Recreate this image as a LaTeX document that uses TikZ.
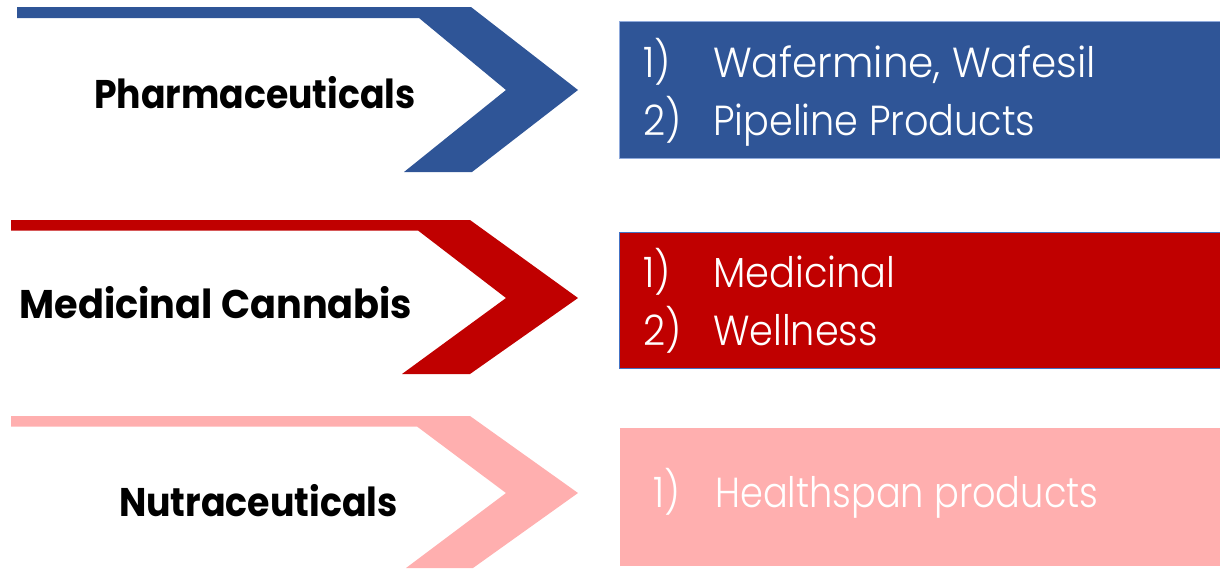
\documentclass[tikz,border=0pt]{standalone}
\usepackage{fontspec}
\setmainfont{Poppins}
\newfontfamily\lightf{Poppins Light}
\definecolor{cblue}{HTML}{2F5597}
\definecolor{cred}{HTML}{C00000}
\definecolor{cpink}{HTML}{FFAFAF}
\definecolor{cedge}{HTML}{4472C4}
\newcommand\hsq[2]{\scalebox{#1}[1]{#2}}
\tikzset{
  lbl/.style={anchor=base, font=\bfseries\fontsize{40}{40}\selectfont, text=black, inner sep=0pt},
  itm/.style={anchor=base west, font=\lightf\fontsize{42}{42}\selectfont, text=white, inner sep=0pt},
  pbox/.style={draw=none, inner sep=0pt},
}
\begin{document}
\begin{tikzpicture}[x=1pt,y=-1pt]
\useasboundingbox (0,0) rectangle (1220,568);
% chevrons
\fill[cblue] (17,7) -- (471,7) -- (578,90) -- (472,172) -- (404,172) -- (506,90) -- (419,18) -- (17,18) -- cycle;
\fill[cred] (11,220) -- (470,220) -- (578,298) -- (470,374) -- (402,374) -- (506,298) -- (418,230.5) -- (11,230.5) -- cycle;
\fill[cpink] (11,416) -- (470,416) -- (578,493) -- (473,568) -- (406,568) -- (506,493) -- (417,426.5) -- (11,426.5) -- cycle;
% labels
\node[lbl] (l1) at (255,108) {\hsq{0.905}{Pharmaceuticals}};
\node[lbl] (l2) at (216,318) {\hsq{0.956}{Medicinal Cannabis}};
\node[lbl] (l3) at (258.5,516) {\hsq{0.908}{Nutraceuticals}};
% boxes
\path[fill=cblue, draw=cedge!60, line width=0.8pt] (619.5,21.5) rectangle (1221,158);
\path[fill=cred, draw=cedge, line width=1pt] (619.5,232) rectangle (1221,368.5);
\path[fill=cpink] (619.5,428) rectangle (1221,566);
\node[pbox] (b1) at (920,90) {};
\node[pbox] (b2) at (920,300) {};
\node[pbox] (b3) at (920,497) {};
% items
\node[itm] (n11) at (643,77) {\hsq{0.92}{1)}};
\node[itm] (t11) at (713,77) {\hsq{0.965}{Wafermine, Wafesil}};
\node[itm] (n12) at (643,135) {\hsq{0.92}{2)}};
\node[itm] (t12) at (713,135) {\hsq{0.91}{Pipeline Products}};
\node[itm] (n21) at (643,287) {\hsq{0.92}{1)}};
\node[itm] (t21) at (713,287) {\hsq{0.914}{Medicinal}};
\node[itm] (n22) at (643,345) {\hsq{0.92}{2)}};
\node[itm] (t22) at (713,345) {\hsq{0.91}{Wellness}};
\node[itm] (n31) at (653,507) {\hsq{0.9}{1)}};
\node[itm] (t31) at (715,507) {\hsq{0.875}{Healthspan products}};
\end{tikzpicture}
\end{document}
